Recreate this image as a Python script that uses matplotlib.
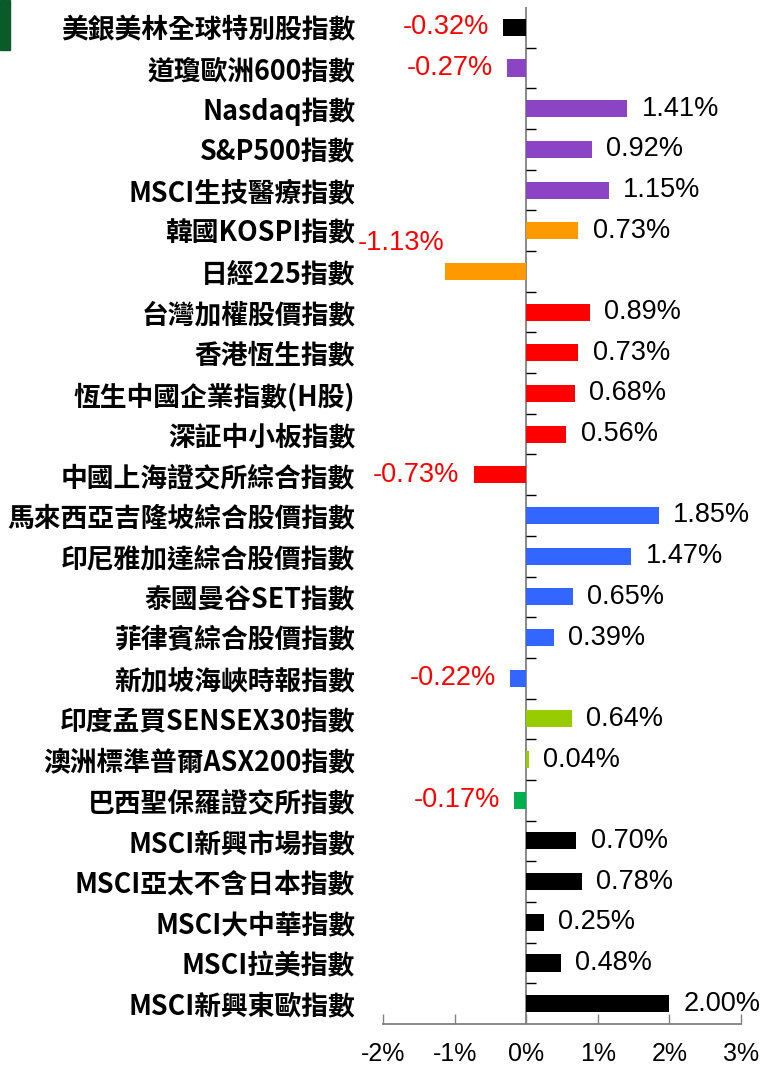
import numpy as np
import matplotlib
matplotlib.use("Agg")
import matplotlib.pyplot as plt
from matplotlib.patches import Rectangle

# 資料 (由上到下)
categories = [
    "美銀美林全球特別股指數", "道瓊歐洲600指數", "Nasdaq指數", "S&P500指數",
    "MSCI生技醫療指數", "韓國KOSPI指數", "日經225指數", "台灣加權股價指數",
    "香港恆生指數", "恆生中國企業指數(H股)", "深証中小板指數", "中國上海證交所綜合指數",
    "馬來西亞吉隆坡綜合股價指數", "印尼雅加達綜合股價指數", "泰國曼谷SET指數",
    "菲律賓綜合股價指數", "新加坡海峽時報指數", "印度孟買SENSEX30指數",
    "澳洲標準普爾ASX200指數", "巴西聖保羅證交所指數", "MSCI新興市場指數",
    "MSCI亞太不含日本指數", "MSCI大中華指數", "MSCI拉美指數", "MSCI新興東歐指數",
]
values = [-0.32, -0.27, 1.41, 0.92, 1.15, 0.73, -1.13, 0.89, 0.73, 0.68, 0.56, -0.73,
          1.85, 1.47, 0.65, 0.39, -0.22, 0.64, 0.04, -0.17, 0.70, 0.78, 0.25, 0.48, 2.00]
colors = ["#000000", "#8B44C4", "#8B44C4", "#8B44C4", "#8B44C4", "#FF9900", "#FF9900",
          "#FF0000", "#FF0000", "#FF0000", "#FF0000", "#FF0000",
          "#3366FF", "#3366FF", "#3366FF", "#3366FF", "#3366FF",
          "#99CC00", "#99CC00", "#00B050",
          "#000000", "#000000", "#000000", "#000000", "#000000"]
x_ticks = [-2, -1, 0, 1, 2, 3]
x_ticklabels = ["-2%", "-1%", "0%", "1%", "2%", "3%"]

n = len(categories)
ypos = np.arange(n)[::-1]

fig = plt.figure(figsize=(7.61, 10.68), dpi=100)
ax = fig.add_axes([383 / 761, 1 - 1024 / 1068, (741 - 383) / 761, (1024 - 7) / 1068])

ax.barh(ypos, values, height=0.42, color=colors, zorder=2)

ax.set_xlim(-2, 3)
ax.set_ylim(-0.5, n - 0.5)

# 數值標籤
for y, v in zip(ypos, values):
    txt = f"{v:.2f}%"
    if v >= 0:
        ax.text(v + 0.2, y, txt, ha="left", va="center", fontsize=19.5,
                family="Liberation Sans", color="black")
    elif v < -1:
        ax.text(v - 0.01, y + 0.7, txt, ha="right", va="center", fontsize=19.5,
                family="Liberation Sans", color="red")
    else:
        ax.text(v - 0.2, y, txt, ha="right", va="center", fontsize=19.5,
                family="Liberation Sans", color="red")

# 軸線
for s in ["top", "right", "left"]:
    ax.spines[s].set_visible(False)
ax.spines["bottom"].set_color("#808080")
ax.spines["bottom"].set_linewidth(1.3)
ax.axvline(0, color="#808080", lw=1.3, zorder=1)
ax.hlines(np.arange(n - 1) + 0.5, 0, 0.14, color="black", lw=1, zorder=1)

ax.set_yticks(ypos)
ax.set_yticklabels(categories, fontsize=19.3, fontweight="bold",
                   family=["Noto Sans CJK TC", "DejaVu Sans"])
ax.tick_params(axis="y", length=0, pad=20)

ax.set_xticks(x_ticks)
ax.set_xticklabels(x_ticklabels, fontsize=18, family="Liberation Sans")
ax.tick_params(axis="x", direction="in", length=7, width=1, color="#808080", pad=13)

# 左上角綠色標記
fig.patches.append(Rectangle((0, 1 - 50 / 1068), 10 / 761, 50 / 1068,
                             transform=fig.transFigure, color="#0B5A2A"))

fig.savefig("out.png", dpi=100)
